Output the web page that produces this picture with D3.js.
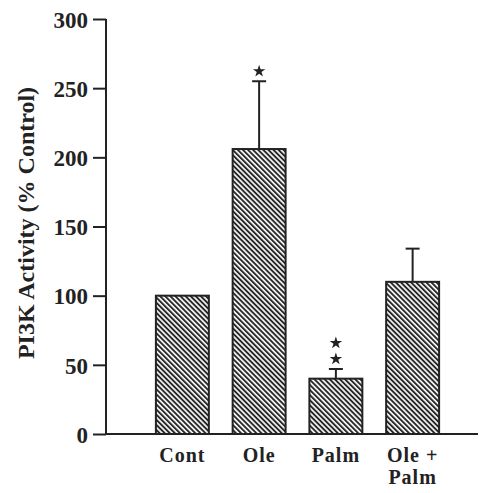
<!DOCTYPE html>
<html>
<head>
<meta charset="utf-8">
<script src="https://cdn.jsdelivr.net/npm/d3@7"></script>
<style>
  html, body { margin: 0; padding: 0; background: #fff; }
  svg { display: block; }
</style>
</head>
<body>
<script>
// PI3K activity relative to control, mean with SEM
const categories = ["Cont", "Ole", "Palm", "Ole + Palm"];
const values = [100, 206, 40, 110];
const errors = [0, 49, 7, 24];
const stars = [0, 1, 2, 0];
const yTicks = [0, 50, 100, 150, 200, 250, 300];

const W = 479, H = 493;
const ink = "#222";
const font = "'Liberation Serif', 'Times New Roman', serif";

const svg = d3.select("body").append("svg")
  .attr("width", W).attr("height", H);

// diagonal hatch fill
const defs = svg.append("defs");
const pat = defs.append("pattern")
  .attr("id", "hatch")
  .attr("patternUnits", "userSpaceOnUse")
  .attr("width", 3.6).attr("height", 10)
  .attr("patternTransform", "rotate(-45)");
pat.append("rect").attr("width", 3.6).attr("height", 10).attr("fill", "#fff");
pat.append("line")
  .attr("x1", 1).attr("x2", 1).attr("y1", 0).attr("y2", 10)
  .attr("stroke", ink).attr("stroke-width", 1.9);

const axisX = 106, baseY = 434, topY = 19;

const y = d3.scaleLinear().domain([0, 300]).range([baseY, topY]);
const x = d3.scaleBand().domain(categories)
  .range([144, 451]).paddingInner(0.31).paddingOuter(0.155);

// y axis
const yAxis = svg.append("g")
  .attr("transform", `translate(${axisX},0)`)
  .call(d3.axisLeft(y).tickValues(yTicks).tickSize(13).tickPadding(5));
yAxis.select(".domain").attr("stroke", ink).attr("stroke-width", 2)
  .attr("d", `M0,${topY}V${baseY}`);
yAxis.selectAll(".tick line").attr("stroke", ink).attr("stroke-width", 2);
yAxis.selectAll(".tick text")
  .attr("fill", ink)
  .attr("font-family", font)
  .attr("font-weight", "bold")
  .attr("font-size", 23)
  .attr("dy", "0.36em");

// x axis baseline
svg.append("line")
  .attr("x1", axisX).attr("x2", 478)
  .attr("y1", baseY).attr("y2", baseY)
  .attr("stroke", ink).attr("stroke-width", 2);

// y axis title
svg.append("text")
  .attr("transform", `translate(34,223) rotate(-90)`)
  .attr("text-anchor", "middle")
  .attr("font-family", font)
  .attr("font-weight", "bold")
  .attr("font-size", 24)
  .attr("fill", ink)
  .text("PI3K Activity (% Control)");

// bars
svg.append("g").selectAll("rect")
  .data(categories)
  .join("rect")
  .attr("x", d => x(d))
  .attr("width", x.bandwidth())
  .attr("y", (d, i) => y(values[i]))
  .attr("height", (d, i) => baseY - y(values[i]))
  .attr("fill", "url(#hatch)")
  .attr("stroke", ink)
  .attr("stroke-width", 2);

// error bars (upper half only)
const eb = svg.append("g").attr("stroke", ink).attr("stroke-width", 2);
categories.forEach((c, i) => {
  if (!errors[i]) return;
  const cx = x(c) + x.bandwidth() / 2;
  const yt = y(values[i] + errors[i]);
  eb.append("line").attr("x1", cx).attr("x2", cx)
    .attr("y1", y(values[i])).attr("y2", yt);
  eb.append("line").attr("x1", cx - 7).attr("x2", cx + 7)
    .attr("y1", yt).attr("y2", yt);
});

// significance stars
const star = d3.symbol().type(d3.symbolStar).size(48);
categories.forEach((c, i) => {
  const cx = x(c) + x.bandwidth() / 2;
  const yt = y(values[i] + errors[i]);
  for (let k = 0; k < stars[i]; k++) {
    svg.append("path")
      .attr("d", star())
      .attr("fill", ink)
      .attr("transform", `translate(${cx},${yt - 10 - k * 16})`);
  }
});

// category labels (two-line label split into separate rows)
const lab = svg.append("g")
  .attr("font-family", font)
  .attr("font-weight", "bold")
  .attr("font-size", 20)
  .attr("letter-spacing", 1)
  .attr("fill", ink)
  .attr("text-anchor", "middle");
categories.forEach(c => {
  const cx = x(c) + x.bandwidth() / 2;
  const parts = c === "Ole + Palm" ? ["Ole +", "Palm"] : [c];
  parts.forEach((p, j) => {
    lab.append("text").attr("x", cx).attr("y", 462 + j * 22).text(p);
  });
});
</script>
</body>
</html>
